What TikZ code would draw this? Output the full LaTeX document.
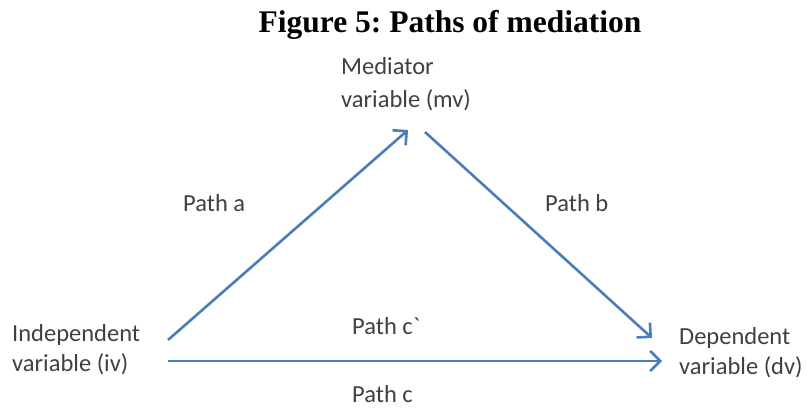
\documentclass[tikz,border=0pt]{standalone}
\usepackage{fontspec}
\setmainfont{Carlito}
\newfontfamily\rawfont{Carlito}[Ligatures=TeXOff]
\newfontfamily\titlefont{Liberation Serif}
\usetikzlibrary{arrows.meta}
\definecolor{arrowblue}{HTML}{4A7EBB}
\definecolor{txtgray}{HTML}{404040}
\frenchspacing
\tikzset{
  lbl/.style={inner sep=0pt, anchor=west, align=left, text=txtgray, font=\fontsize{24.5}{30}\selectfont},
  conn/.style={draw=arrowblue, line width=2.6pt, -{Straight Barb[length=10pt,width=20pt,line width=2.6pt]}},
}
\begin{document}
\begin{tikzpicture}[x=1pt,y=-1pt]
\useasboundingbox (0,0) rectangle (806,409);
\node[inner sep=0pt, font=\titlefont\bfseries\fontsize{31.5}{36}\selectfont] (title) at (450,25) {Figure 5: Paths of mediation};
\node[lbl, font=\fontsize{24.5}{33}\selectfont] (mv) at (341,84) {Mediator\\variable (mv)};
\node[lbl] (iv) at (12,350) {Independent\\variable (iv)};
\node[lbl] (dv) at (679,353) {Dependent\\variable (dv)};
\node[lbl] (pa) at (183,203) {Path a};
\node[lbl] (pb) at (545,203) {Path b};
\node[lbl, font=\rawfont\fontsize{24.5}{30}\selectfont] (pcp) at (352,326) {Path c`};
\node[lbl] (pc) at (352,394) {Path c};
\coordinate (a1) at (168,340);
\coordinate (a2) at (408,130);
\coordinate (b1) at (425,132);
\coordinate (b2) at (652,338);
\coordinate (c1) at (168,361);
\coordinate (c2) at (662,361);
\draw[conn] (a1) -- (a2);
\draw[conn] (b1) -- (b2);
\draw[conn] (c1) -- (c2);
\end{tikzpicture}
\end{document}
